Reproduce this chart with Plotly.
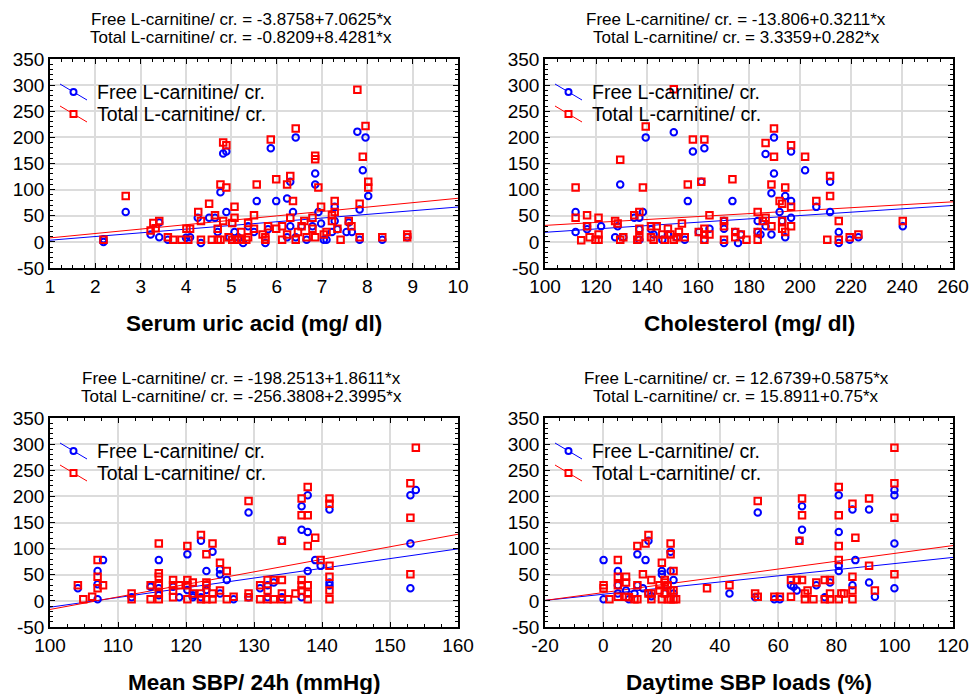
import plotly.graph_objects as go

# ---------------- data ----------------
uric_free_x = [2.18, 2.18, 2.67, 3.22, 3.41, 3.41, 3.6, 4.0, 4.09, 4.26, 4.33, 4.51, 4.64, 4.7, 4.76, 4.82, 4.89, 4.89, 4.96, 5.07,
               5.15, 5.26, 5.37, 5.5, 5.56, 5.75, 5.81, 5.87, 5.99, 6.23, 6.23, 6.3, 6.3, 6.36, 6.42, 6.42, 6.55, 6.66, 6.79, 6.85,
               6.85, 6.92, 6.98, 7.04, 7.1, 7.22, 7.28, 7.28, 7.34, 7.54, 7.59, 7.66, 7.78, 7.83, 7.83, 7.9, 7.96, 8.02, 8.33, 8.88]
uric_free_y = [0, 5, 57, 14, 37, 9, 4, 8, 9, 46, -2, 46, 46, 19, 95, 169, 173, 57, 9, 19,
               9, -2, 30, 19, 78, -2, 24, 179, 78, 9, 83, 115, 30, 57, 200, 9, 30, 4, 30, 131,
               110, 57, 35, 4, 4, 19, 67, 40, 24, 19, 37, 19, 211, 62, 4, 137, 200, 88, 4, 9]
uric_total_x = [2.18, 2.67, 3.22, 3.28, 3.33, 3.41, 3.6, 3.72, 3.9, 4.01, 4.05, 4.09, 4.27, 4.33, 4.33, 4.51, 4.57, 4.64, 4.7, 4.7,
                4.76, 4.76, 4.82, 4.82, 4.89, 4.89, 4.94, 5.02, 5.02, 5.07, 5.07, 5.13, 5.22, 5.22, 5.33, 5.37, 5.37, 5.5, 5.5, 5.56,
                5.69, 5.75, 5.75, 5.81, 5.87, 5.99, 5.99, 6.12, 6.12, 6.23, 6.23, 6.3, 6.3, 6.36, 6.42, 6.42, 6.47, 6.55, 6.61, 6.66,
                6.79, 6.79, 6.85, 6.85, 6.85, 6.92, 6.98, 7.04, 7.1, 7.22, 7.22, 7.28, 7.28, 7.34, 7.41, 7.59, 7.65, 7.78, 7.83, 7.83,
                7.9, 7.96, 8.02, 8.02, 8.33, 8.88, 8.88]
uric_total_y = [4, 88, 22, 36, 26, 40, 9, 4, 4, 25, 4, 25, 57, 40, 4, 73, 4, 51, 25, 4,
                110, 4, 190, 40, 185, 104, 9, 36, 4, 67, 46, 4, 19, 4, 4, 36, 9, 51, 25, 110,
                14, 9, 4, 30, 196, 120, 25, 30, 4, 110, 14, 126, 46, 78, 217, 4, 19, 30, 40, 9,
                46, 25, 165, 158, 9, 104, 67, 14, 19, 51, 40, 78, 57, 25, 4, 40, 30, 291, 73, 9,
                163, 222, 115, 104, 9, 9, 14]

chol_free_x = [112, 112, 116.5, 116.5, 122, 127.5, 128.5, 129.5, 130.7, 135, 137, 137, 137, 138.4, 139.5, 141.6, 142.6, 146, 148.2, 150.5,
               151.6, 154.8, 156, 158, 160.3, 161.3, 162.5, 162.5, 164.5, 170.2, 170.2, 170.2, 173.5, 174.6, 175.7, 176.8, 183.4, 183.4, 184.5, 186.5,
               186.5, 188.8, 188.8, 189.8, 189.8, 192, 193, 194.2, 194.2, 196.5, 196.5, 196.5, 202, 206.4, 211.8, 211.8, 215.2, 215.2, 219.5, 222.9,
               240.3]
chol_free_y = [57, 19, 30, 24, 30, 9, 30, 110, 9, 46, 46, 24, 4, 57, 200, 24, 14, 4, 14, 210,
               9, 4, 78, 173, 19, 115, 179, 4, 25, 40, 25, -2, 78, 19, -2, 14, 40, 19, 14, 30,
               168, 14, 93, 200, 131, 57, 40, 88, 9, 173, 78, 46, 137, 67, 115, 57, 19, -2, 4, 9,
               30]
chol_total_x = [112, 112, 114.2, 116.5, 116.5, 117.5, 119.8, 121, 121, 121, 127.5, 128.5, 129.5, 130.7, 129.5, 135, 136.2, 137, 137, 137,
                138.4, 139.5, 141.6, 141.6, 142.6, 143.8, 146, 147, 148.2, 149.2, 150.5, 151.6, 152.5, 153.7, 154.8, 156, 158, 160.3, 161.3, 162.5,
                162.5, 162.5, 162.5, 164.5, 164.5, 170.2, 170.2, 170.2, 173.5, 174.6, 174.6, 176.8, 179, 183.4, 183.4, 183.4, 185.4, 186.5, 186.5, 188.8,
                188.8, 189.8, 189.8, 192, 193, 193, 193, 194.2, 194.2, 196.5, 196.5, 196.5, 202, 206.4, 210.7, 211.8, 211.8, 215.2, 215.2, 219.5,
                222.9, 240.3, 150.5]
chol_total_y = [104, 46, 3, 51, 30, 9, 4, 4, 46, 14, 40, 35, 4, 9, 157, 51, 4, 57, 25, 9,
                104, 221, 30, 9, 4, 30, 14, 4, 25, 14, 4, 9, 19, 35, 9, 110, 196, 19, 115, 196,
                25, 14, 4, 51, 14, 40, 30, 4, 120, 19, 9, 14, 4, 57, 19, 4, 40, 46, 189, 110,
                30, 217, 163, 78, 73, 40, 25, 104, 19, 185, 67, 30, 163, 78, 4, 126, 88, 40, 4, 9,
                14, 40, 292]

sbp_free_x = [104.1, 107, 107, 107, 107.8, 112, 114.8, 116, 116, 116, 118.1, 119, 120.2, 120.2, 121, 121, 122.2, 122.2, 123, 123,
              123.9, 125, 125, 125, 126, 127, 129.2, 129.2, 130.9, 132, 132, 132.9, 134.1, 134.1, 137, 137, 137, 137.9, 137.9, 137.9,
              139, 139.8, 141.1, 141.1, 141.1, 153, 153, 153, 153.8]
sbp_free_y = [24, 57, 32, 3, 78, 7, 27, 78, 24, 11, 27, 7, 89, 21, 11, 7, 115, 7, 57, 21,
              94, 60, 51, 14, 40, 3, 169, 7, 24, 30, 7, 35, 115, 7, 181, 136, 7, 202, 132, 57,
              78, 67, 175, 35, 30, 202, 110, 24, 212]
sbp_total_x = [104.1, 104.9, 106.2, 107, 107, 107, 107.8, 112, 112, 114.8, 114.8, 116, 116, 116, 116, 116, 116, 118.1, 118.1, 118.1,
               118.1, 119, 120.2, 120.2, 120.2, 120.2, 121, 121, 122.2, 122.2, 122.2, 123, 123, 123, 123, 123.9, 123.9, 123.9, 125, 125,
               126, 126, 127, 129.2, 129.2, 129.2, 130.9, 130.9, 132, 132, 132, 132.9, 132.9, 134.1, 134.1, 134.1, 134.1, 135, 136.1, 137,
               137, 137, 137, 137, 137.9, 137.9, 137.9, 137.9, 137.9, 137.9, 139, 139.8, 141.1, 141.1, 141.1, 141.1, 141.1, 141.1, 153, 153,
               153, 153.8]
sbp_total_y = [30, 3, 8, 78, 46, 24, 30, 14, 3, 30, 3, 110, 53, 46, 30, 14, 3, 40, 30, 20,
               7, 30, 105, 40, 30, 3, 35, 14, 126, 14, 3, 89, 35, 30, 3, 110, 14, 3, 73, 20,
               57, 3, 8, 191, 14, 7, 30, 3, 40, 20, 3, 40, 3, 115, 40, 14, 3, 3, 14, 196,
               164, 40, 30, 20, 218, 164, 105, 30, 14, 3, 121, 78, 196, 186, 67, 46, 20, 3, 225, 159,
               51, 293]

load_free_x = [0.1, 0.1, 5, 5, 5, 7.8, 8.8, 10.7, 11.7, 11.7, 13.6, 14.5, 15.5, 15.5, 16.5, 20.1, 20.1, 21.1, 23.1, 23.1,
               24.1, 24.1, 43.3, 53, 52.1, 58.7, 60.6, 64.4, 65.3, 66.4, 67.3, 68.2, 68.2, 73.1, 76, 77.8, 80.8, 80.8, 80.8, 80.8,
               85.5, 85.5, 86.5, 91.2, 91.2, 93.2, 99.9, 99.9, 99.9, 99.9]
load_free_y = [78, 3, 57, 30, 14, 20, 3, 14, 89, 30, 24, 78, 115, 14, 9, 57, 51, 14, 94, 57,
               40, 14, 14, 169, 7, 3, 3, 30, 27, 20, 115, 181, 136, 30, 7, 35, 202, 132, 67, 57,
               175, 30, 78, 175, 35, 8, 202, 212, 110, 24]
load_total_x = [0.1, 0.1, 2.1, 5, 5, 5, 5, 7.8, 7.8, 7.8, 8.8, 10.7, 11.7, 11.7, 11.7, 13.6, 14.5, 15.5, 15.5, 16.5,
                16.5, 16.5, 19.3, 19.3, 20.1, 20.1, 21.1, 21.1, 21.1, 22.1, 22.1, 23.1, 23.1, 23.1, 23.1, 24.1, 24.1, 24.1, 25, 35.6,
                43.3, 52.1, 53, 53, 58.7, 60.6, 64.4, 64.4, 66.4, 67.3, 68.2, 68.2, 68.2, 69.2, 69.2, 70.1, 72.1, 73.1, 76, 76,
                77.8, 77.8, 77.8, 80.8, 80.8, 80.8, 80.8, 80.8, 81.7, 82.6, 85.5, 85.5, 85.5, 85.5, 86.5, 91.2, 91.2, 93.2, 99.9, 99.9,
                99.9, 99.9]
load_total_y = [30, 24, 3, 78, 46, 30, 8, 46, 35, 8, 7, 3, 105, 30, 3, 51, 110, 126, 14, 40,
                14, 3, 20, 30, 73, 3, 40, 35, 14, 30, 3, 110, 89, 20, 3, 57, 20, 3, 3, 24,
                30, 14, 191, 8, 8, 8, 40, 8, 40, 115, 196, 164, 40, 3, 14, 20, 3, 35, 40, 3,
                40, 14, 3, 218, 164, 105, 78, 3, 14, 14, 186, 46, 20, 3, 121, 196, 67, 20, 293, 225,
                159, 51]

x_titles = ["Serum uric acid (mg/ dl)", "Cholesterol (mg/ dl)", "Mean SBP/ 24h (mmHg)", "Daytime SBP loads (%)"]
free_intercepts = [-3.8758, -13.806, -198.2513, 12.6739]
free_slopes = [7.0625, 0.3211, 1.8611, 0.5875]
total_intercepts = [-0.8209, 3.3359, -256.3808, 15.8911]
total_slopes = [8.4281, 0.282, 2.3995, 0.75]
eq_free_text = ["Free L-carnitine/ cr. = -3.8758+7.0625*x", "Free L-carnitine/ cr. = -13.806+0.3211*x",
                "Free L-carnitine/ cr. = -198.2513+1.8611*x", "Free L-carnitine/ cr. = 12.6739+0.5875*x"]
eq_total_text = ["Total L-carnitine/ cr. = -0.8209+8.4281*x", "Total L-carnitine/ cr. = 3.3359+0.282*x",
                 "Total L-carnitine/ cr. = -256.3808+2.3995*x", "Total L-carnitine/ cr. = 15.8911+0.75*x"]
x_ranges = [[1, 10], [100, 260], [100, 160], [-20, 120]]
x_tickvals = [[1, 2, 3, 4, 5, 6, 7, 8, 9, 10], [100, 120, 140, 160, 180, 200, 220, 240, 260],
              [100, 110, 120, 130, 140, 150, 160], [-20, 0, 20, 40, 60, 80, 100, 120]]
x_ticktext = [["1", "2", "3", "4", "5", "6", "7", "8", "9", "10"],
              ["100", "120", "140", "160", "180", "200", "220", "240", "260"],
              ["100", "110", "120", "130", "140", "150", "160"],
              ["-20", "0", "20", "40", "60", "80", "100", "120"]]
x_minor = [0.25, 5, 2.5, 5]
y_range = [-50, 350]
y_tickvals = [-50, 0, 50, 100, 150, 200, 250, 300, 350]
y_ticktext = ["-50", "0", "50", "100", "150", "200", "250", "300", "350"]
legend_names = ["Free L-carnitine/ cr.", "Total L-carnitine/ cr."]

free_x = [uric_free_x, chol_free_x, sbp_free_x, load_free_x]
free_y = [uric_free_y, chol_free_y, sbp_free_y, load_free_y]
total_x = [uric_total_x, chol_total_x, sbp_total_x, load_total_x]
total_y = [uric_total_y, chol_total_y, sbp_total_y, load_total_y]

# ---------------- layout geometry (pixels in the 969x694 window) ----------------
W, H = 969, 694
BLUE, RED = "#0000ff", "#ff0000"
FONT = "Liberation Sans, Arial, sans-serif"
plot_left = [50, 545, 50, 545]
plot_right = [458, 953, 458, 953]
plot_top = [59, 59, 418, 418]
plot_bottom = [268, 268, 627, 627]
title_cx = [241, 736, 241, 736]


def px(x):
    return x / W


def py(y):
    return 1 - y / H


fig = go.Figure()
annotations = []
shapes = []

for i in range(4):
    sfx = "" if i == 0 else str(i + 1)
    xa, ya = "x" + sfx, "y" + sfx
    x0, x1 = x_ranges[i]
    # regression lines
    fig.add_trace(go.Scatter(x=[x0, x1], y=[free_intercepts[i] + free_slopes[i] * x0, free_intercepts[i] + free_slopes[i] * x1],
                             mode="lines", line=dict(color=BLUE, width=1), xaxis=xa, yaxis=ya, showlegend=False, hoverinfo="skip"))
    fig.add_trace(go.Scatter(x=[x0, x1], y=[total_intercepts[i] + total_slopes[i] * x0, total_intercepts[i] + total_slopes[i] * x1],
                             mode="lines", line=dict(color=RED, width=1), xaxis=xa, yaxis=ya, showlegend=False, hoverinfo="skip"))
    fig.add_trace(go.Scatter(x=free_x[i], y=free_y[i], mode="markers", name=legend_names[0],
                             marker=dict(symbol="circle-open", size=6.5, color=BLUE, line=dict(width=2, color=BLUE)),
                             xaxis=xa, yaxis=ya, showlegend=False))
    fig.add_trace(go.Scatter(x=total_x[i], y=total_y[i], mode="markers", name=legend_names[1],
                             marker=dict(symbol="square-open", size=6.5, color=RED, line=dict(width=2, color=RED)),
                             xaxis=xa, yaxis=ya, showlegend=False))

    common = dict(ticks="inside", ticklen=5, tickwidth=1, tickcolor="black", showline=True, linecolor="black",
                  linewidth=1.5, mirror="allticks", showgrid=True, gridcolor="#dcdcdc", gridwidth=1.5, zeroline=False,
                  automargin=False, tickfont=dict(family=FONT, size=19, color="black"), tickmode="array")
    fig.layout["xaxis" + sfx] = dict(
        domain=[px(plot_left[i]), px(plot_right[i])], range=x_ranges[i], anchor=ya,
        tickvals=x_tickvals[i], ticktext=x_ticktext[i],
        minor=dict(ticks="inside", ticklen=3, tickcolor="black", dtick=x_minor[i], tick0=x_ranges[i][0], showgrid=False),
        **common)
    fig.layout["yaxis" + sfx] = dict(
        domain=[py(plot_bottom[i]), py(plot_top[i])], range=y_range, anchor=xa,
        tickvals=y_tickvals, ticktext=y_ticktext,
        minor=dict(ticks="inside", ticklen=3, tickcolor="black", dtick=10, tick0=0, showgrid=False),
        **common)

    # titles (equations)
    annotations.append(dict(text=eq_free_text[i], x=px(title_cx[i]), y=py(plot_top[i] - 40), xref="paper", yref="paper",
                            showarrow=False, xanchor="center", yanchor="middle",
                            font=dict(family=FONT, size=17, color="black")))
    annotations.append(dict(text=eq_total_text[i], x=px(title_cx[i]), y=py(plot_top[i] - 22), xref="paper", yref="paper",
                            showarrow=False, xanchor="center", yanchor="middle",
                            font=dict(family=FONT, size=17, color="black")))
    # x-axis titles
    annotations.append(dict(text="<b>" + x_titles[i] + "</b>", x=px((plot_left[i] + plot_right[i]) / 2),
                            y=py(plot_bottom[i] + 55), xref="paper", yref="paper", showarrow=False,
                            xanchor="center", yanchor="middle", font=dict(family=FONT, size=22.5, color="black")))

    # legend (manual, with slanted line glyphs like the original)
    L, T = plot_left[i], plot_top[i]
    for k, (col, sym_y, txt) in enumerate([(BLUE, 33, legend_names[0]), (RED, 55, legend_names[1])]):
        shapes.append(dict(type="line", xref="paper", yref="paper",
                           x0=px(L + 10), y0=py(T + sym_y - 8), x1=px(L + 37), y1=py(T + sym_y + 8),
                           line=dict(color=col, width=1)))
        if k == 0:
            shapes.append(dict(type="circle", xref="paper", yref="paper",
                               x0=px(L + 20.5), y0=py(T + sym_y - 3), x1=px(L + 26.5), y1=py(T + sym_y + 3),
                               line=dict(color=col, width=2), fillcolor="white"))
        else:
            shapes.append(dict(type="rect", xref="paper", yref="paper",
                               x0=px(L + 20.5), y0=py(T + sym_y - 3), x1=px(L + 26.5), y1=py(T + sym_y + 3),
                               line=dict(color=col, width=2), fillcolor="white"))
        annotations.append(dict(text=txt, x=px(L + 45), y=py(T + sym_y), xref="paper", yref="paper",
                                showarrow=False, xanchor="left", yanchor="middle",
                                font=dict(family=FONT, size=19.5, color="black")))

fig.update_layout(width=W, height=H, autosize=False, margin=dict(l=0, r=0, t=0, b=0, autoexpand=False),
                  paper_bgcolor="white", plot_bgcolor="white", showlegend=False,
                  annotations=annotations, shapes=shapes)

# remove the page's default body margin so the 969x694 figure fills the window exactly
fig.write_html("out.html", config={"displayModeBar": False},
               post_script="document.body.style.margin='0px';document.body.style.overflow='hidden';")
